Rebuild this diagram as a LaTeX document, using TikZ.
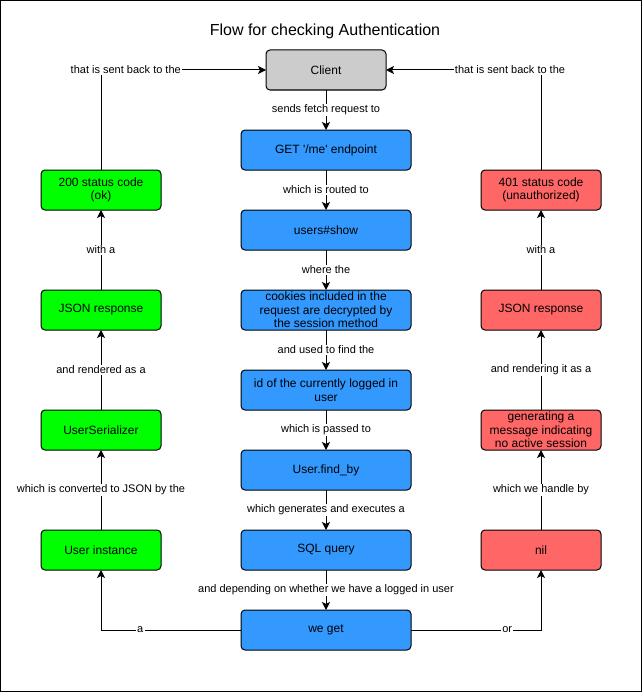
\documentclass[tikz,border=0pt]{standalone}
\usepackage{fontspec}
\setmainfont{Liberation Sans}
\usepackage{xcolor}
\usepackage{tikz}
\usetikzlibrary{arrows.meta,positioning}

\definecolor{flowblue}{HTML}{3399FF}
\definecolor{okgreen}{HTML}{00FF00}
\definecolor{errred}{HTML}{FF6666}
\definecolor{clientgray}{HTML}{CCCCCC}

\begin{document}
\begin{tikzpicture}[
  x=0.75pt, y=-0.75pt,
  flow/.style={rectangle, rounded corners=3pt, draw=black, fill=flowblue,
    minimum width=127.5pt, minimum height=30pt, inner sep=0.5pt, outer sep=0pt,
    font=\fontsize{9}{10.2}\selectfont, align=center, line width=0.75pt},
  okbox/.style={flow, fill=okgreen, minimum width=90pt},
  errbox/.style={flow, fill=errred, minimum width=90pt},
  lbl/.style={fill=white, inner sep=1pt, font=\fontsize{8.25}{10}\selectfont},
  arrow/.style={-{Stealth[length=6pt, width=6pt, inset=1.5pt]}, line width=0.75pt},
  node distance=30pt and 60pt
]

% frame and title
\useasboundingbox (0,0) rectangle (642,692);
\draw[line width=0.75pt] (0.5,0.5) rectangle (641.5,691.5);
\node[font=\fontsize{12}{14}\selectfont] (title) at (325,31) {Flow for checking Authentication};

% main column
\node[flow, fill=clientgray, minimum width=90pt] (client) at (326,70) {Client};
\node[flow, below=30pt of client] (getme) {GET \textquotesingle/me\textquotesingle\ endpoint};
\node[flow, below=30pt of getme] (show) {users\#show};
\node[flow, below=30pt of show] (cookies) {cookies included in the\\request are decrypted by\\the session method};
\node[flow, below=30pt of cookies] (userid) {id of the currently logged in\\user};
\node[flow, below=30pt of userid] (findby) {User.find\_by};
\node[flow, below=30pt of findby] (sql) {SQL query};
\node[flow, below=30pt of sql] (weget) {we get};

\draw[arrow] (client) -- node[lbl] {sends fetch request to} (getme);
\draw[arrow] (getme) -- node[lbl] {which is routed to} (show);
\draw[arrow] (show) -- node[lbl] {where the} (cookies);
\draw[arrow] (cookies) -- node[lbl] {and used to find the} (userid);
\draw[arrow] (userid) -- node[lbl] {which is passed to} (findby);
\draw[arrow] (findby) -- node[lbl] {which generates and executes a} (sql);
\draw[arrow] (sql) -- node[lbl] {and depending on whether we have a logged in user} (weget);

% logged in path (left)
\node[okbox, left=60pt of sql] (inst) {User instance};
\node[okbox, above=60pt of inst] (ser) {UserSerializer};
\node[okbox, above=60pt of ser] (jsonok) {JSON response};
\node[okbox, above=60pt of jsonok] (ok200) {200 status code\\(ok)};

\draw[arrow] (weget) -| node[lbl, pos=0.36] {a} (inst);
\draw[arrow] (inst) -- node[lbl] {which is converted to JSON by the} (ser);
\draw[arrow] (ser) -- node[lbl] {and rendered as a} (jsonok);
\draw[arrow] (jsonok) -- node[lbl] {with a} (ok200);
\draw[arrow] (ok200) |- node[lbl, pos=0.575] {that is sent back to the} (client);

% no session path (right)
\node[errbox, right=52.5pt of sql] (nil) {nil};
\node[errbox, above=60pt of nil] (nomsg) {generating a\\message indicating\\no active session};
\node[errbox, above=60pt of nomsg] (jsonerr) {JSON response};
\node[errbox, above=60pt of jsonerr] (err401) {401 status code\\(unauthorized)};

\draw[arrow] (weget) -| node[lbl, pos=0.37] {or} (nil);
\draw[arrow] (nil) -- node[lbl] {which we handle by} (nomsg);
\draw[arrow] (nomsg) -- node[lbl] {and rendering it as a} (jsonerr);
\draw[arrow] (jsonerr) -- node[lbl] {with a} (err401);
\draw[arrow] (err401) |- node[lbl, pos=0.6] {that is sent back to the} (client);

\end{tikzpicture}
\end{document}
